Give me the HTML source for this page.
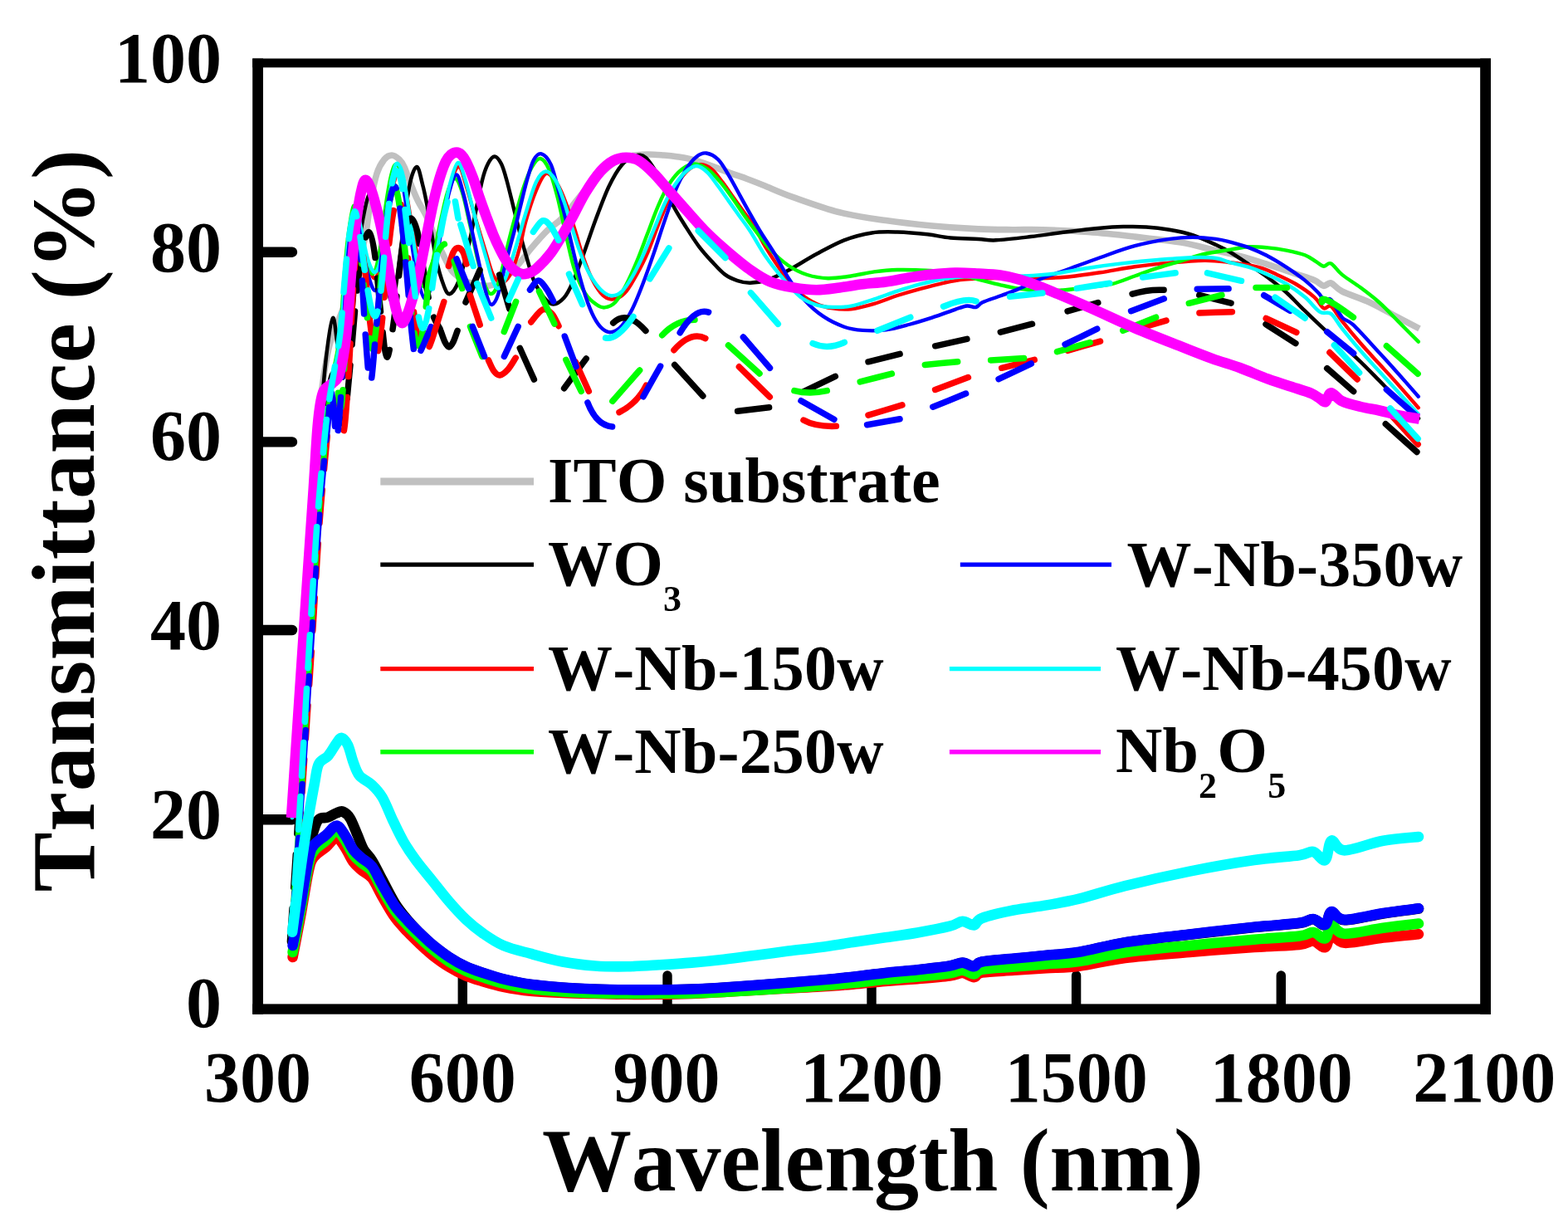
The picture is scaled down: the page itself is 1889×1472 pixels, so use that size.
<!DOCTYPE html>
<html lang="en"><head><meta charset="utf-8"><title>Transmittance spectra</title>
<style>
html,body{margin:0;padding:0;background:#fff;}
body{width:1889px;height:1472px;overflow:hidden;}
svg{display:block;}
text{font-family:"Liberation Serif",serif;font-weight:bold;fill:#000;font-kerning:none;}
.tk{font-size:86px;}
.lg{font-size:78px;letter-spacing:0.2px;}
.sb{font-size:44px;}
.ax{font-size:108px;}
path{fill:none;stroke-linejoin:round;}
</style></head><body>
<svg width="1889" height="1472" viewBox="0 0 1889 1472">
<rect x="0" y="0" width="1889" height="1472" fill="#fff"/>
<g id="frame" fill="#000">
<rect x="304.2" y="70.5" width="12.8" height="1151.2"/>
<rect x="1783.2" y="70.5" width="12.8" height="1151.2"/>
<rect x="304.2" y="70.5" width="1491.8" height="10.8"/>
<rect x="304.2" y="1209.4" width="1491.8" height="12.3"/>
<g stroke="#000" stroke-width="12.4" stroke-linecap="round" fill="none">
<path d="M316 303.7H352M316 532.4H352M316 759H352M316 987.3H352"/>
</g>
<g stroke="#000" stroke-width="11.4" stroke-linecap="round" fill="none">
<path d="M557.3 1210V1175M804 1210V1175M1050 1210V1175M1296.6 1210V1175M1543.3 1210V1175"/>
</g>
</g>
<g id="curves">
<path d="M350.5 985.0C352.8 950.8 359.8 844.2 364.0 780.0C368.2 715.8 372.7 646.7 376.0 600.0C379.3 553.3 380.7 530.0 384.0 500.0C387.3 470.0 391.3 440.8 396.0 420.0C400.7 399.2 406.7 390.0 412.0 375.0C417.3 360.0 423.3 345.0 428.0 330.0C432.7 315.0 437.0 299.2 440.0 285.0C443.0 270.8 443.7 257.7 446.0 245.0C448.3 232.3 451.2 217.8 454.0 209.0C456.8 200.2 460.0 195.7 463.0 192.0C466.0 188.3 469.0 187.0 472.0 187.0C475.0 187.0 478.5 189.7 481.0 192.0C483.5 194.3 484.7 196.0 487.0 201.0C489.3 206.0 492.3 215.3 495.0 222.0C497.7 228.7 499.8 234.5 503.0 241.0C506.2 247.5 510.5 253.7 514.0 261.0C517.5 268.3 520.7 277.3 524.0 285.0C527.3 292.7 530.5 300.0 534.0 307.0C537.5 314.0 540.7 321.8 545.0 327.0C549.3 332.2 555.0 335.3 560.0 338.0C565.0 340.7 570.0 342.0 575.0 343.0C580.0 344.0 585.0 344.8 590.0 344.0C595.0 343.2 599.2 342.3 605.0 338.0C610.8 333.7 619.2 324.5 625.0 318.0C630.8 311.5 634.2 305.8 640.0 299.0C645.8 292.2 653.8 283.0 660.0 277.0C666.2 271.0 670.3 270.0 677.0 263.0C683.7 256.0 692.8 243.3 700.0 235.0C707.2 226.7 713.3 219.5 720.0 213.0C726.7 206.5 733.3 200.2 740.0 196.0C746.7 191.8 753.3 189.7 760.0 188.0C766.7 186.3 773.3 186.2 780.0 186.0C786.7 185.8 794.4 186.6 800.0 187.0C805.6 187.4 807.0 187.3 813.6 188.4C820.2 189.5 828.7 190.4 839.5 193.6C850.3 196.8 868.1 204.2 878.2 207.8C888.3 211.5 893.0 212.9 900.0 215.5C907.0 218.1 910.7 219.6 920.0 223.3C929.3 227.0 940.5 232.3 955.7 237.7C970.9 243.1 992.8 251.2 1011.4 255.8C1030.0 260.5 1048.5 262.9 1067.1 265.6C1085.7 268.3 1104.2 270.3 1122.8 272.0C1141.4 273.7 1162.4 275.1 1178.6 275.9C1194.8 276.7 1207.2 276.6 1220.0 276.7C1232.8 276.8 1240.5 276.2 1255.7 276.7C1270.9 277.2 1292.8 278.1 1311.4 279.5C1330.0 280.9 1348.5 283.0 1367.1 285.1C1385.7 287.2 1406.5 289.3 1422.8 292.1C1439.0 294.9 1452.8 299.1 1464.6 301.8C1476.4 304.5 1483.1 305.7 1493.6 308.5C1504.0 311.3 1516.1 315.1 1527.3 318.6C1538.5 322.2 1551.6 326.6 1560.9 329.8C1570.2 333.0 1577.7 335.2 1583.3 337.6C1588.9 340.0 1591.1 343.7 1594.5 344.3C1597.9 344.9 1599.8 339.9 1603.5 341.0C1607.2 342.1 1609.1 347.1 1616.9 351.0C1624.8 354.9 1639.4 359.3 1650.6 364.5C1661.8 369.7 1674.3 377.2 1684.2 382.4C1694.1 387.6 1705.7 393.6 1710.0 395.9" stroke="#c0c0c0" stroke-width="7.6" stroke-linecap="butt"/>
<path d="M351.0 985.0C354.5 937.5 366.3 777.5 372.0 700.0C377.7 622.5 381.5 565.0 385.0 520.0C388.5 475.0 390.3 452.8 393.0 430.0C395.7 407.2 398.7 384.7 401.0 383.0C403.3 381.3 405.2 408.0 407.0 420.0C408.8 432.0 410.2 451.7 412.0 455.0C413.8 458.3 416.0 450.8 418.0 440.0C420.0 429.2 421.7 413.3 424.0 390.0C426.3 366.7 429.3 323.3 432.0 300.0C434.7 276.7 437.5 261.3 440.0 250.0C442.5 238.7 444.7 232.0 447.0 232.0C449.3 232.0 451.5 237.0 454.0 250.0C456.5 263.0 459.3 291.7 462.0 310.0C464.7 328.3 467.7 353.3 470.0 360.0C472.3 366.7 473.7 361.7 476.0 350.0C478.3 338.3 481.2 310.8 484.0 290.0C486.8 269.2 490.0 239.8 493.0 225.0C496.0 210.2 499.3 201.5 502.0 201.0C504.7 200.5 506.8 213.8 509.0 222.0C511.2 230.2 512.3 235.3 515.0 250.0C517.7 264.7 521.7 294.2 525.0 310.0C528.3 325.8 532.2 337.7 535.0 345.0C537.8 352.3 539.2 354.8 542.0 354.0C544.8 353.2 548.7 347.8 552.0 340.0C555.3 332.2 559.0 318.7 562.0 307.0C565.0 295.3 566.8 285.0 570.0 270.0C573.2 255.0 578.0 229.2 581.0 217.0C584.0 204.8 585.5 201.8 588.0 197.0C590.5 192.2 593.3 188.4 596.0 188.5C598.7 188.6 601.6 192.8 604.0 197.5C606.4 202.2 608.0 208.3 610.4 217.0C612.8 225.7 615.9 238.8 618.6 249.7C621.3 260.6 624.0 271.9 626.7 282.3C629.4 292.7 632.2 302.7 635.0 312.0C637.8 321.3 639.9 330.3 643.2 338.0C646.5 345.7 651.1 353.2 655.0 358.0C658.9 362.8 662.4 366.4 666.5 366.5C670.6 366.6 675.5 363.1 679.4 358.8C683.3 354.5 685.8 349.3 689.7 340.7C693.6 332.1 697.9 320.1 702.6 307.2C707.3 294.3 712.9 277.1 718.1 263.3C723.3 249.5 728.4 235.3 733.6 224.5C738.8 213.7 743.9 204.8 749.1 198.7C754.3 192.6 759.8 189.3 764.6 187.9C769.4 186.5 772.9 185.5 778.0 190.0C783.1 194.5 789.5 205.4 795.0 215.0C800.5 224.6 805.8 238.0 811.0 247.8C816.2 257.6 821.3 265.4 826.5 273.6C831.7 281.8 836.8 289.9 842.0 296.8C847.2 303.7 852.3 309.3 857.5 314.9C862.7 320.5 867.8 326.5 873.0 330.4C878.2 334.3 883.3 336.4 888.5 338.1C893.7 339.8 897.9 340.9 904.0 340.7C910.1 340.5 917.3 339.5 925.0 337.0C932.7 334.5 940.2 330.7 950.0 325.5C959.8 320.3 972.4 312.0 983.6 306.0C994.8 300.0 1005.9 293.6 1017.0 289.3C1028.1 285.0 1039.7 282.0 1050.4 280.4C1061.1 278.8 1069.8 279.2 1081.0 279.5C1092.2 279.8 1106.6 281.1 1117.3 282.3C1128.0 283.5 1134.8 285.6 1145.0 286.5C1155.2 287.4 1169.4 287.4 1178.6 287.9C1187.8 288.4 1189.5 289.8 1200.0 289.3C1210.5 288.8 1227.9 286.7 1241.8 285.1C1255.7 283.5 1269.7 281.2 1283.6 279.5C1297.5 277.8 1313.7 275.9 1325.3 274.8C1336.9 273.7 1343.9 273.3 1353.2 273.1C1362.5 272.9 1371.7 272.8 1381.0 273.4C1390.3 274.0 1399.6 275.1 1408.9 276.7C1418.2 278.3 1427.5 280.1 1436.8 283.1C1446.1 286.1 1457.0 291.3 1464.6 294.8C1472.2 298.3 1475.7 300.0 1482.4 304.0C1489.1 308.0 1497.3 313.6 1504.8 318.6C1512.3 323.6 1519.8 328.6 1527.3 334.2C1534.8 339.8 1543.0 346.2 1549.7 352.2C1556.4 358.2 1560.1 362.8 1567.6 370.1C1575.1 377.4 1583.3 385.6 1594.5 395.9C1605.7 406.2 1623.7 421.3 1634.9 431.8C1646.1 442.3 1653.5 450.3 1661.8 458.7C1670.1 467.1 1677.1 474.4 1685.0 482.0C1692.9 489.6 1705.0 500.3 1709.0 504.0" stroke="#000" stroke-width="4.5" stroke-linecap="round"/>
<path d="M352.3 985.0C354.9 950.8 363.1 840.8 367.8 780.0C372.4 719.2 377.2 659.5 380.5 620.0C383.8 580.5 385.0 566.3 387.5 543.0C390.0 519.7 392.5 497.2 395.5 480.0C398.5 462.8 402.7 453.3 405.5 440.0C408.3 426.7 410.7 416.7 412.5 400.0C414.3 383.3 415.0 358.8 416.5 340.0C418.0 321.2 419.4 300.0 421.5 287.0C423.6 274.0 426.6 262.3 429.0 262.0C431.4 261.7 433.5 275.3 436.0 285.0C438.5 294.7 441.3 311.7 444.0 320.0C446.7 328.3 449.3 336.7 452.0 335.0C454.7 333.3 457.3 324.2 460.0 310.0C462.7 295.8 465.3 265.8 468.0 250.0C470.7 234.2 473.8 222.2 476.0 215.0C478.2 207.8 479.0 205.3 481.0 207.0C483.0 208.7 485.5 214.5 488.0 225.0C490.5 235.5 493.2 254.2 496.0 270.0C498.8 285.8 502.2 308.0 505.0 320.0C507.8 332.0 510.2 341.2 513.0 342.0C515.8 342.8 518.8 336.2 522.0 325.0C525.2 313.8 528.7 291.7 532.0 275.0C535.3 258.3 538.6 237.3 542.0 225.0C545.4 212.7 549.3 201.0 552.6 201.0C555.9 201.0 558.9 215.5 562.0 225.0C565.1 234.5 567.3 244.2 571.3 257.8C575.3 271.4 582.2 294.5 586.0 306.7C589.8 318.9 591.2 325.4 594.0 331.0C596.8 336.6 600.0 339.3 603.0 340.0C606.0 340.7 609.2 338.7 612.0 335.0C614.8 331.3 617.5 324.7 620.0 318.0C622.5 311.3 624.9 303.3 627.0 295.0C629.1 286.7 629.8 279.3 632.9 268.4C636.0 257.5 641.6 239.6 645.8 229.7C650.0 219.8 653.9 210.3 658.2 209.0C662.5 207.7 667.6 216.0 671.6 222.0C675.6 228.0 678.6 236.4 682.0 245.2C685.4 254.0 688.6 264.2 692.0 275.0C695.4 285.8 699.1 299.6 702.6 309.7C706.1 319.8 709.5 328.5 713.0 335.6C716.5 342.7 719.9 348.2 723.3 352.3C726.7 356.4 730.1 358.9 733.6 360.0C737.1 361.1 740.5 360.5 744.0 359.0C747.5 357.5 750.4 355.9 754.3 351.1C758.2 346.3 762.9 338.1 767.2 330.4C771.5 322.6 775.8 314.5 780.1 304.6C784.4 294.7 788.7 281.8 793.0 271.0C797.3 260.2 801.6 249.0 805.9 240.0C810.2 231.0 814.5 223.0 818.8 216.8C823.1 210.6 827.4 205.7 831.7 202.6C836.0 199.5 840.3 198.0 844.6 198.2C848.9 198.4 853.2 200.4 857.5 203.9C861.8 207.4 866.1 213.8 870.4 219.4C874.7 225.0 879.0 231.5 883.3 237.5C887.6 243.5 891.9 249.5 896.2 255.5C900.5 261.5 904.9 266.6 909.2 273.6C913.6 280.6 916.4 288.0 922.3 297.6C928.2 307.2 937.6 321.7 944.6 331.0C951.6 340.3 957.5 347.5 964.0 353.3C970.5 359.1 977.1 362.9 983.6 365.9C990.1 368.9 996.0 370.3 1003.0 371.4C1010.0 372.5 1016.9 373.2 1025.3 372.3C1033.7 371.4 1043.9 368.6 1053.2 365.9C1062.5 363.2 1071.7 359.0 1081.0 356.0C1090.3 353.0 1099.7 350.3 1109.0 347.8C1118.3 345.3 1128.0 342.7 1136.8 340.8C1145.6 338.9 1151.3 337.6 1161.8 336.6C1172.3 335.6 1185.3 335.2 1200.0 335.0C1214.7 334.8 1236.1 335.4 1250.0 335.2C1263.9 335.0 1271.0 334.9 1283.6 333.8C1296.1 332.7 1311.4 330.4 1325.3 328.3C1339.2 326.2 1353.2 323.2 1367.1 321.3C1381.0 319.4 1395.0 317.9 1408.9 316.6C1422.8 315.4 1439.1 314.0 1450.7 313.8C1462.3 313.6 1467.7 314.4 1478.6 315.7C1489.5 317.0 1506.0 319.4 1516.0 321.9C1526.0 324.4 1531.0 327.5 1538.5 330.9C1546.0 334.2 1553.4 337.5 1560.9 342.0C1568.4 346.5 1577.7 352.9 1583.3 357.8C1588.9 362.7 1591.1 369.3 1594.5 371.2C1597.9 373.1 1599.8 366.4 1603.5 369.0C1607.2 371.6 1610.9 379.4 1616.9 386.9C1622.9 394.4 1631.8 405.2 1639.3 413.8C1646.8 422.4 1654.3 430.3 1661.8 438.5C1669.3 446.7 1676.4 454.3 1684.2 463.1C1692.0 471.9 1704.7 486.5 1708.8 491.2" stroke="#f00" stroke-width="4.4" stroke-linecap="round"/>
<path d="M351.8 985.0C354.2 950.8 362.1 840.8 366.5 780.0C370.9 719.2 374.9 659.5 378.0 620.0C381.1 580.5 382.5 566.3 385.0 543.0C387.5 519.7 390.0 497.2 393.0 480.0C396.0 462.8 400.2 453.3 403.0 440.0C405.8 426.7 408.2 416.7 410.0 400.0C411.8 383.3 412.5 358.8 414.0 340.0C415.5 321.2 417.0 302.3 419.0 287.0C421.0 271.7 423.7 250.8 426.0 248.0C428.3 245.2 430.5 259.7 433.0 270.0C435.5 280.3 438.3 300.0 441.0 310.0C443.7 320.0 446.3 330.8 449.0 330.0C451.7 329.2 454.3 319.2 457.0 305.0C459.7 290.8 462.5 261.2 465.0 245.0C467.5 228.8 469.8 215.8 472.0 208.0C474.2 200.2 475.8 196.8 478.0 198.0C480.2 199.2 482.5 204.3 485.0 215.0C487.5 225.7 490.2 244.8 493.0 262.0C495.8 279.2 499.2 304.2 502.0 318.0C504.8 331.8 507.2 343.8 510.0 345.0C512.8 346.2 515.8 336.7 519.0 325.0C522.2 313.3 525.7 290.5 529.0 275.0C532.3 259.5 535.8 242.0 539.0 232.0C542.2 222.0 545.0 215.0 548.0 215.0C551.0 215.0 554.0 222.8 557.0 232.0C560.0 241.2 562.8 256.2 566.0 270.0C569.2 283.8 573.0 302.8 576.0 315.0C579.0 327.2 581.5 336.5 584.0 343.0C586.5 349.5 588.5 353.7 591.0 354.0C593.5 354.3 596.5 350.7 599.0 345.0C601.5 339.3 603.7 329.2 606.0 320.0C608.3 310.8 610.7 299.4 613.0 290.0C615.3 280.6 617.1 273.8 620.0 263.3C622.9 252.8 626.8 237.4 630.3 227.1C633.8 216.8 637.2 207.3 640.7 201.3C644.2 195.3 647.6 190.6 651.0 191.0C654.4 191.4 657.9 196.2 661.3 203.9C664.7 211.7 668.1 224.2 671.6 237.5C675.1 250.8 678.5 269.3 682.0 283.9C685.5 298.5 688.4 313.6 692.3 325.2C696.2 336.8 700.9 346.7 705.2 353.6C709.5 360.5 714.2 363.7 718.1 366.5C722.0 369.3 724.5 370.8 728.4 370.4C732.3 370.0 737.0 368.5 741.3 364.0C745.6 359.5 750.0 351.5 754.3 343.3C758.6 335.1 762.9 325.2 767.2 314.9C771.5 304.6 775.8 292.5 780.1 281.3C784.4 270.1 788.7 257.7 793.0 247.8C797.3 237.9 801.2 229.3 805.9 222.0C810.6 214.7 816.2 208.0 821.4 203.9C826.6 199.8 831.7 197.4 836.9 197.4C842.1 197.4 847.2 200.2 852.4 203.9C857.6 207.6 862.8 213.4 867.9 219.4C873.0 225.4 877.9 232.5 883.3 240.0C888.6 247.5 892.6 254.1 900.0 264.2C907.4 274.3 919.6 291.1 927.9 300.4C936.2 309.7 942.6 314.9 950.0 320.0C957.4 325.1 964.5 328.5 972.4 331.0C980.3 333.5 988.7 334.9 997.5 335.2C1006.3 335.4 1016.0 333.8 1025.3 332.5C1034.6 331.2 1043.9 328.6 1053.2 327.4C1062.5 326.1 1069.9 325.2 1081.0 325.0C1092.1 324.8 1108.5 325.3 1120.0 326.0C1131.5 326.7 1140.2 327.2 1150.0 329.0C1159.8 330.8 1169.2 334.2 1178.6 336.6C1188.0 339.0 1198.2 341.7 1206.4 343.6C1214.6 345.5 1219.7 346.7 1227.9 347.8C1236.1 348.9 1246.4 349.8 1255.7 350.0C1265.0 350.2 1274.4 349.9 1283.6 349.2C1292.8 348.5 1301.7 347.2 1311.0 346.0C1320.3 344.8 1330.0 344.4 1339.3 342.2C1348.6 339.9 1357.8 335.8 1367.1 332.5C1376.4 329.2 1385.7 325.7 1395.0 322.7C1404.3 319.7 1413.5 317.1 1422.8 314.3C1432.1 311.5 1440.8 308.3 1450.7 306.0C1460.6 303.7 1473.4 302.1 1482.4 300.6C1491.4 299.2 1497.3 297.7 1504.8 297.3C1512.3 296.9 1519.8 297.7 1527.3 298.4C1534.8 299.1 1542.2 300.2 1549.7 301.7C1557.2 303.2 1566.0 305.1 1572.0 307.3C1578.0 309.6 1581.8 312.9 1585.5 315.2C1589.2 317.4 1591.5 320.4 1594.5 320.8C1597.5 321.2 1599.8 315.7 1603.5 317.4C1607.2 319.1 1610.9 326.0 1616.9 330.9C1622.9 335.8 1631.8 341.0 1639.3 346.6C1646.8 352.2 1654.3 357.8 1661.8 364.5C1669.3 371.2 1676.4 379.0 1684.2 386.9C1692.0 394.8 1704.7 407.5 1708.8 411.6" stroke="#0f0" stroke-width="4.4" stroke-linecap="round"/>
<path d="M352.1 985.0C354.6 950.8 362.7 840.8 367.2 780.0C371.8 719.2 376.3 659.5 379.5 620.0C382.7 580.5 384.0 566.3 386.5 543.0C389.0 519.7 391.5 497.2 394.5 480.0C397.5 462.8 401.7 453.3 404.5 440.0C407.3 426.7 409.7 416.7 411.5 400.0C413.3 383.3 414.0 358.8 415.5 340.0C417.0 321.2 418.6 301.2 420.5 287.0C422.4 272.8 424.8 256.2 427.0 255.0C429.2 253.8 431.5 268.3 434.0 280.0C436.5 291.7 439.0 313.3 442.0 325.0C445.0 336.7 449.0 350.8 452.0 350.0C455.0 349.2 457.5 335.8 460.0 320.0C462.5 304.2 464.8 272.5 467.0 255.0C469.2 237.5 471.2 223.3 473.0 215.0C474.8 206.7 476.0 203.8 478.0 205.0C480.0 206.2 482.5 210.8 485.0 222.0C487.5 233.2 490.2 254.0 493.0 272.0C495.8 290.0 498.8 315.3 502.0 330.0C505.2 344.7 508.8 358.7 512.0 360.0C515.2 361.3 517.8 351.0 521.0 338.0C524.2 325.0 527.7 299.7 531.0 282.0C534.3 264.3 537.8 243.9 541.0 232.0C544.2 220.1 547.1 210.3 550.0 210.5C552.9 210.7 555.8 224.8 558.3 233.4C560.8 242.0 562.8 252.5 565.0 262.0C567.2 271.5 568.8 279.1 571.3 290.4C573.8 301.7 577.4 318.7 580.0 330.0C582.6 341.3 584.9 351.8 587.0 358.0C589.1 364.2 590.3 367.5 592.5 367.0C594.7 366.5 597.2 363.2 600.0 355.0C602.8 346.8 605.9 330.1 609.0 318.0C612.1 305.9 615.6 293.7 618.6 282.3C621.6 270.9 624.0 260.6 626.7 249.7C629.4 238.8 632.2 226.5 634.9 217.0C637.6 207.5 640.1 197.9 643.0 192.6C645.9 187.3 648.8 184.3 652.3 185.3C655.8 186.3 660.2 190.4 663.9 198.7C667.5 207.0 670.8 222.0 674.2 234.9C677.6 247.8 681.0 262.0 684.5 276.2C688.0 290.4 691.4 306.7 694.9 320.0C698.4 333.3 701.8 345.9 705.2 356.2C708.6 366.5 712.0 375.3 715.5 382.0C719.0 388.7 722.4 393.2 725.9 396.2C729.4 399.2 732.3 400.7 736.2 400.1C740.1 399.5 744.8 397.1 749.1 392.4C753.4 387.7 757.7 380.3 762.0 371.7C766.3 363.1 770.6 351.9 774.9 340.7C779.2 329.5 783.5 317.1 787.8 304.6C792.1 292.1 796.4 278.4 800.7 265.9C805.0 253.4 809.3 240.0 813.6 229.7C817.9 219.4 822.2 210.8 826.5 203.9C830.8 197.0 835.4 191.6 839.5 188.4C843.6 185.2 846.7 183.8 851.0 184.5C855.3 185.2 860.8 187.8 865.3 192.3C869.8 196.8 873.9 204.5 878.2 211.6C882.5 218.7 886.8 227.2 891.1 234.9C895.4 242.7 899.7 250.6 904.0 258.1C908.3 265.6 911.8 272.0 916.7 280.0C921.6 288.0 927.9 296.8 933.4 306.0C938.9 315.2 944.0 325.9 950.0 335.2C956.0 344.5 962.6 354.0 969.6 361.7C976.6 369.4 984.0 375.9 991.9 381.2C999.8 386.5 1009.1 390.9 1017.0 393.7C1024.9 396.5 1031.0 397.3 1039.3 397.9C1047.6 398.5 1057.8 398.5 1067.1 397.4C1076.4 396.2 1085.7 393.5 1095.0 391.0C1104.3 388.5 1113.5 385.6 1122.8 382.6C1132.1 379.6 1143.7 375.2 1150.7 372.8C1157.7 370.4 1160.8 369.0 1165.0 368.5C1169.2 368.0 1172.6 370.8 1175.8 370.0C1179.0 369.2 1178.9 366.3 1184.0 364.0C1189.1 361.7 1199.1 358.7 1206.4 356.0C1213.7 353.3 1219.7 351.3 1227.9 347.8C1236.1 344.3 1246.4 338.9 1255.7 335.2C1265.0 331.5 1272.0 329.7 1283.6 325.5C1295.2 321.3 1311.4 315.1 1325.3 310.2C1339.2 305.3 1353.2 299.9 1367.1 296.2C1381.0 292.5 1397.3 289.6 1408.9 287.9C1420.5 286.2 1427.5 285.9 1436.8 285.9C1446.1 285.9 1457.0 286.9 1464.6 287.9C1472.2 288.8 1475.7 289.9 1482.4 291.6C1489.1 293.4 1497.3 295.6 1504.8 298.4C1512.3 301.2 1519.8 304.6 1527.3 308.5C1534.8 312.4 1542.2 317.0 1549.7 321.9C1557.2 326.8 1565.7 332.6 1572.0 337.6C1578.3 342.7 1583.8 348.1 1587.8 352.2C1591.8 356.3 1593.4 360.5 1596.0 362.0C1598.6 363.5 1600.0 357.6 1603.5 361.0C1607.0 364.4 1612.4 377.3 1616.9 382.4C1621.4 387.5 1622.9 384.3 1630.4 391.4C1637.9 398.5 1652.8 415.3 1661.8 425.0C1670.8 434.7 1676.4 440.9 1684.2 449.7C1692.0 458.5 1704.7 473.0 1708.8 477.7" stroke="#00f" stroke-width="4.4" stroke-linecap="round"/>
<path d="M352.0 985.0C354.5 950.8 362.5 840.8 367.0 780.0C371.5 719.2 375.8 659.5 379.0 620.0C382.2 580.5 383.5 566.3 386.0 543.0C388.5 519.7 391.0 497.2 394.0 480.0C397.0 462.8 401.2 453.3 404.0 440.0C406.8 426.7 409.2 416.7 411.0 400.0C412.8 383.3 413.5 358.8 415.0 340.0C416.5 321.2 417.8 302.0 420.0 287.0C422.2 272.0 425.5 252.0 428.0 250.0C430.5 248.0 432.5 264.7 435.0 275.0C437.5 285.3 440.2 303.2 443.0 312.0C445.8 320.8 449.2 329.2 452.0 328.0C454.8 326.8 457.3 318.8 460.0 305.0C462.7 291.2 465.7 261.3 468.0 245.0C470.3 228.7 472.2 215.0 474.0 207.0C475.8 199.0 477.0 196.0 479.0 197.0C481.0 198.0 483.5 202.2 486.0 213.0C488.5 223.8 491.2 244.5 494.0 262.0C496.8 279.5 499.8 305.0 503.0 318.0C506.2 331.0 509.8 339.3 513.0 340.0C516.2 340.7 518.8 333.3 522.0 322.0C525.2 310.7 528.7 288.7 532.0 272.0C535.3 255.3 538.7 234.7 542.0 222.0C545.3 209.3 548.7 197.2 551.7 196.0C554.7 194.8 557.3 206.8 560.0 215.0C562.7 223.2 565.2 234.2 568.0 245.0C570.8 255.8 574.0 268.8 577.0 280.0C580.0 291.2 583.2 302.2 586.0 312.0C588.8 321.8 591.5 333.1 594.0 339.0C596.5 344.9 598.2 348.2 600.7 347.5C603.2 346.8 606.0 341.8 609.0 335.0C612.0 328.2 615.8 315.5 618.6 306.7C621.4 297.9 623.6 290.1 626.0 282.0C628.4 273.9 629.6 268.5 632.9 258.1C636.2 247.7 641.7 228.0 645.8 219.4C649.9 210.8 653.5 206.9 657.4 206.5C661.3 206.1 665.3 210.8 669.0 216.8C672.7 222.8 675.9 232.7 679.4 242.6C682.9 252.5 686.3 265.4 689.7 276.2C693.1 287.0 696.5 298.2 700.0 307.2C703.5 316.2 706.5 323.5 710.4 330.4C714.3 337.3 719.0 344.2 723.3 348.5C727.6 352.8 731.9 355.8 736.2 356.2C740.5 356.6 744.8 355.0 749.1 351.1C753.4 347.2 757.7 340.3 762.0 333.0C766.3 325.7 770.6 316.7 774.9 307.2C779.2 297.7 783.5 286.5 787.8 276.2C792.1 265.9 796.4 254.2 800.7 245.2C805.0 236.2 809.3 228.4 813.6 222.0C817.9 215.6 822.2 210.2 826.5 206.5C830.8 202.8 835.2 199.8 839.5 200.0C843.8 200.2 848.1 203.7 852.4 207.8C856.7 211.9 861.0 218.7 865.3 224.5C869.6 230.3 873.9 236.6 878.2 242.6C882.5 248.6 886.8 254.7 891.1 260.7C895.4 266.7 898.8 270.8 904.0 278.8C909.2 286.8 916.0 299.6 922.3 308.8C928.6 318.0 934.8 325.7 941.8 333.8C948.8 341.9 957.0 351.9 964.0 357.5C971.0 363.1 977.1 365.2 983.6 367.3C990.1 369.4 996.0 369.8 1003.0 370.0C1010.0 370.2 1016.9 370.3 1025.3 368.7C1033.7 367.1 1043.9 363.3 1053.2 360.3C1062.5 357.3 1071.7 353.6 1081.0 350.6C1090.3 347.6 1099.7 344.6 1109.0 342.2C1118.3 339.8 1128.0 337.5 1136.8 336.0C1145.6 334.5 1151.3 333.8 1161.8 333.3C1172.3 332.8 1188.1 333.1 1200.0 333.0C1211.9 332.9 1221.8 333.1 1233.4 332.5C1245.0 331.9 1256.6 331.3 1269.6 329.7C1282.6 328.1 1297.5 324.8 1311.4 322.7C1325.3 320.6 1339.3 318.7 1353.2 317.1C1367.1 315.5 1381.1 314.1 1395.0 313.0C1408.9 311.9 1425.2 310.5 1436.8 310.2C1448.4 309.9 1457.0 310.0 1464.6 311.0C1472.2 312.0 1475.7 314.5 1482.4 316.3C1489.1 318.1 1497.3 319.5 1504.8 321.9C1512.3 324.3 1519.8 327.5 1527.3 330.9C1534.8 334.2 1542.2 337.5 1549.7 342.0C1557.2 346.5 1565.3 352.2 1572.0 357.8C1578.7 363.4 1584.8 372.3 1590.0 375.7C1595.2 379.1 1599.0 374.6 1603.5 378.0C1608.0 381.4 1610.9 388.4 1616.9 395.9C1622.9 403.4 1631.8 414.2 1639.3 422.8C1646.8 431.4 1654.3 439.3 1661.8 447.5C1669.3 455.7 1676.4 463.5 1684.2 472.1C1692.0 480.7 1704.7 494.5 1708.8 499.0" stroke="#0ff" stroke-width="4.4" stroke-linecap="round"/>
<path d="M349.4 1134.0C351.0 1109.0 355.9 1039.0 359.0 984.0C362.1 929.0 364.8 860.7 368.0 804.0C371.2 747.3 375.2 684.7 378.0 644.0C380.8 603.3 382.8 584.0 385.0 560.0C387.2 536.0 389.2 515.0 391.0 500.0C392.8 485.0 394.2 478.3 396.0 470.0C397.8 461.7 400.0 449.2 402.0 450.0C404.0 450.8 406.0 465.0 408.0 475.0C410.0 485.0 411.8 514.2 414.0 510.0C416.2 505.8 418.5 475.0 421.0 450.0C423.5 425.0 426.3 385.0 429.0 360.0C431.7 335.0 434.3 313.3 437.0 300.0C439.7 286.7 442.5 278.3 445.0 280.0C447.5 281.7 449.7 293.3 452.0 310.0C454.3 326.7 456.7 360.0 459.0 380.0C461.3 400.0 463.5 428.3 466.0 430.0C468.5 431.7 471.3 408.3 474.0 390.0C476.7 371.7 479.7 338.3 482.0 320.0C484.3 301.7 485.8 289.5 488.0 280.0C490.2 270.5 492.5 263.0 495.0 263.0C497.5 263.0 500.3 268.8 503.0 280.0C505.7 291.2 508.2 314.2 511.0 330.0C513.8 345.8 516.8 364.0 520.0 375.0C523.2 386.0 528.3 392.5 530.0 396.0" stroke="#000" stroke-width="7.5" stroke-dasharray="40 25" stroke-dashoffset="0" stroke-linecap="round"/>
<path d="M351.2 1134.0C353.0 1109.0 358.2 1039.0 362.0 984.0C365.8 929.0 370.3 860.7 374.0 804.0C377.7 747.3 381.2 684.7 384.0 644.0C386.8 603.3 388.8 584.0 391.0 560.0C393.2 536.0 395.3 512.5 397.0 500.0C398.7 487.5 399.2 487.5 401.0 485.0C402.8 482.5 405.8 479.2 408.0 485.0C410.2 490.8 412.0 525.8 414.0 520.0C416.0 514.2 418.0 480.0 420.0 450.0C422.0 420.0 424.0 367.5 426.0 340.0C428.0 312.5 429.8 288.3 432.0 285.0C434.2 281.7 436.7 302.5 439.0 320.0C441.3 337.5 443.7 371.7 446.0 390.0C448.3 408.3 450.7 430.0 453.0 430.0C455.3 430.0 457.7 410.0 460.0 390.0C462.3 370.0 464.7 332.5 467.0 310.0C469.3 287.5 471.7 266.7 474.0 255.0C476.3 243.3 478.7 235.8 481.0 240.0C483.3 244.2 485.7 262.5 488.0 280.0C490.3 297.5 492.7 325.0 495.0 345.0C497.3 365.0 499.5 386.5 502.0 400.0C504.5 413.5 507.7 422.7 510.0 426.0C512.3 429.3 514.0 423.6 516.0 420.0C518.0 416.4 521.0 407.1 522.0 404.5" stroke="#f00" stroke-width="7.5" stroke-dasharray="40 25" stroke-dashoffset="15" stroke-linecap="round"/>
<path d="M350.6 1134.0C352.3 1109.0 357.4 1039.0 361.0 984.0C364.6 929.0 368.5 860.7 372.0 804.0C375.5 747.3 379.2 684.7 382.0 644.0C384.8 603.3 386.8 584.0 389.0 560.0C391.2 536.0 393.2 515.0 395.0 500.0C396.8 485.0 398.2 475.8 400.0 470.0C401.8 464.2 404.2 461.7 406.0 465.0C407.8 468.3 409.3 497.5 411.0 490.0C412.7 482.5 414.3 448.3 416.0 420.0C417.7 391.7 419.2 345.8 421.0 320.0C422.8 294.2 424.8 268.3 427.0 265.0C429.2 261.7 431.7 282.5 434.0 300.0C436.3 317.5 438.7 350.0 441.0 370.0C443.3 390.0 445.7 418.3 448.0 420.0C450.3 421.7 452.7 400.0 455.0 380.0C457.3 360.0 459.7 322.5 462.0 300.0C464.3 277.5 466.7 257.5 469.0 245.0C471.3 232.5 473.7 222.5 476.0 225.0C478.3 227.5 480.5 242.5 483.0 260.0C485.5 277.5 488.5 307.5 491.0 330.0C493.5 352.5 495.7 380.7 498.0 395.0C500.3 409.3 502.7 418.5 505.0 416.0C507.3 413.5 510.1 393.7 512.0 380.0C513.9 366.3 515.8 341.7 516.6 334.0" stroke="#0f0" stroke-width="7.5" stroke-dasharray="40 25" stroke-dashoffset="30" stroke-linecap="round"/>
<path d="M350.9 1134.0C352.7 1109.0 357.8 1039.0 361.5 984.0C365.2 929.0 369.4 860.7 373.0 804.0C376.6 747.3 380.2 684.7 383.0 644.0C385.8 603.3 387.8 584.0 390.0 560.0C392.2 536.0 394.7 515.0 396.0 500.0C397.3 485.0 397.0 471.7 398.0 470.0C399.0 468.3 400.8 480.3 402.0 490.0C403.2 499.7 403.8 526.3 405.0 528.0C406.2 529.7 407.5 518.0 409.0 500.0C410.5 482.0 412.3 448.3 414.0 420.0C415.7 391.7 417.3 353.3 419.0 330.0C420.7 306.7 422.3 290.3 424.0 280.0C425.7 269.7 427.3 264.7 429.0 268.0C430.7 271.3 432.2 278.0 434.0 300.0C435.8 322.0 438.0 373.2 440.0 400.0C442.0 426.8 444.0 459.3 446.0 461.0C448.0 462.7 449.7 433.5 452.0 410.0C454.3 386.5 457.3 346.7 460.0 320.0C462.7 293.3 465.3 265.8 468.0 250.0C470.7 234.2 473.5 223.3 476.0 225.0C478.5 226.7 480.7 242.5 483.0 260.0C485.3 277.5 487.8 306.7 490.0 330.0C492.2 353.3 494.2 383.0 496.0 400.0C497.8 417.0 499.0 428.7 501.0 432.0C503.0 435.3 504.9 426.4 508.0 420.0C511.1 413.6 517.4 398.1 519.3 393.7" stroke="#00f" stroke-width="7.5" stroke-dasharray="40 25" stroke-dashoffset="45" stroke-linecap="round"/>
<path d="M530.9 398.4C531.8 400.7 534.3 408.7 536.0 412.0C537.7 415.3 539.3 418.0 541.0 418.0C542.7 418.0 544.3 415.3 546.0 412.0C547.7 408.7 550.2 400.7 551.1 398.4" stroke="#000" stroke-width="7.5" stroke-linecap="round"/>
<path d="M561.0 364.1C563.9 357.7 575.1 331.8 578.0 325.4" stroke="#000" stroke-width="7.5" stroke-linecap="round"/>
<path d="M601.7 331.0C603.7 337.9 611.8 365.3 613.8 372.2" stroke="#000" stroke-width="7.5" stroke-linecap="round"/>
<path d="M626.3 419.3C629.1 425.6 640.6 450.8 643.4 457.1" stroke="#000" stroke-width="7.5" stroke-linecap="round"/>
<path d="M679.6 467.7C684.0 461.7 701.8 437.9 706.2 431.9" stroke="#000" stroke-width="7.5" stroke-linecap="round"/>
<path d="M738.7 389.0Q755.3 372.9 777.9 398.5" stroke="#000" stroke-width="7.5" stroke-linecap="round"/>
<path d="M812.7 439.4C818.4 445.7 841.1 470.6 846.8 476.9" stroke="#000" stroke-width="7.5" stroke-linecap="round"/>
<path d="M888.6 495.3C894.9 494.5 920.3 491.5 926.6 490.7" stroke="#000" stroke-width="7.5" stroke-linecap="round"/>
<path d="M967.8 471.9C974.2 468.8 999.9 456.4 1006.3 453.3" stroke="#000" stroke-width="7.5" stroke-linecap="round"/>
<path d="M1046.0 435.8C1052.4 434.2 1077.7 428.0 1084.1 426.4" stroke="#000" stroke-width="7.5" stroke-linecap="round"/>
<path d="M1126.7 416.8C1133.1 415.4 1158.5 409.7 1164.9 408.3" stroke="#000" stroke-width="7.5" stroke-linecap="round"/>
<path d="M1205.3 400.1C1211.7 398.4 1237.1 391.9 1243.5 390.2" stroke="#000" stroke-width="7.5" stroke-linecap="round"/>
<path d="M1286.1 374.9C1292.2 373.2 1316.7 366.3 1322.8 364.6" stroke="#000" stroke-width="7.5" stroke-linecap="round"/>
<path d="M1364.1 354.1Q1382.9 348.3 1402.1 349.3" stroke="#000" stroke-width="7.5" stroke-linecap="round"/>
<path d="M1444.8 355.4C1451.2 357.0 1476.6 363.6 1483.0 365.2" stroke="#000" stroke-width="7.5" stroke-linecap="round"/>
<path d="M1525.0 390.6C1531.0 394.4 1554.9 409.8 1560.9 413.6" stroke="#000" stroke-width="7.5" stroke-linecap="round"/>
<path d="M1598.7 443.6C1604.0 448.3 1625.3 466.8 1630.6 471.5" stroke="#000" stroke-width="7.5" stroke-linecap="round"/>
<path d="M1669.3 510.8C1675.6 516.4 1700.6 538.8 1706.9 544.4" stroke="#000" stroke-width="7.5" stroke-linecap="round"/>
<path d="M522.8 402.0C524.8 395.6 532.8 369.9 534.8 363.5" stroke="#f00" stroke-width="7.5" stroke-linecap="round"/>
<path d="M540.5 320.5C541.4 317.8 544.1 307.7 546.0 304.0C547.9 300.3 550.0 298.6 552.0 298.6C554.0 298.6 556.3 300.8 558.0 304.0C559.7 307.2 561.4 315.5 562.1 317.8" stroke="#f00" stroke-width="7.5" stroke-linecap="round"/>
<path d="M566.3 355.5C568.3 361.4 576.2 385.3 578.2 391.2" stroke="#f00" stroke-width="7.5" stroke-linecap="round"/>
<path d="M588.5 434.0C589.6 436.2 592.7 444.0 595.0 447.0C597.3 450.0 599.4 452.3 602.2 452.0C605.0 451.7 608.8 448.5 612.0 445.0C615.2 441.5 619.6 433.5 621.2 431.2" stroke="#f00" stroke-width="7.5" stroke-linecap="round"/>
<path d="M639.8 387.9C642.1 385.4 649.4 374.6 653.6 373.0C657.8 371.4 661.8 374.7 665.0 378.0C668.2 381.3 671.6 390.3 673.0 392.7" stroke="#f00" stroke-width="7.5" stroke-linecap="round"/>
<path d="M693.4 436.1C696.0 441.9 706.7 465.5 709.3 471.3" stroke="#f00" stroke-width="7.5" stroke-linecap="round"/>
<path d="M746.0 496.7Q767.8 485.6 778.5 464.1" stroke="#f00" stroke-width="7.5" stroke-linecap="round"/>
<path d="M811.9 421.7Q832.6 398.5 849.8 407.6" stroke="#f00" stroke-width="7.5" stroke-linecap="round"/>
<path d="M890.4 441.8C896.5 447.9 921.2 472.1 927.3 478.2" stroke="#f00" stroke-width="7.5" stroke-linecap="round"/>
<path d="M968.0 506.1Q982.3 514.3 1007.4 513.3" stroke="#f00" stroke-width="7.5" stroke-linecap="round"/>
<path d="M1046.0 500.2C1052.8 498.2 1080.1 489.8 1086.9 487.8" stroke="#f00" stroke-width="7.5" stroke-linecap="round"/>
<path d="M1126.6 469.4C1133.3 466.9 1159.7 457.0 1166.4 454.5" stroke="#f00" stroke-width="7.5" stroke-linecap="round"/>
<path d="M1206.7 443.3C1213.3 441.6 1239.6 435.0 1246.2 433.3" stroke="#f00" stroke-width="7.5" stroke-linecap="round"/>
<path d="M1286.1 422.3C1292.7 420.4 1318.9 413.0 1325.5 411.1" stroke="#f00" stroke-width="7.5" stroke-linecap="round"/>
<path d="M1366.8 397.2C1373.2 395.3 1398.6 388.0 1405.0 386.1" stroke="#f00" stroke-width="7.5" stroke-linecap="round"/>
<path d="M1444.9 376.9C1451.5 376.7 1477.8 375.9 1484.4 375.7" stroke="#f00" stroke-width="7.5" stroke-linecap="round"/>
<path d="M1525.2 383.5C1531.3 386.3 1555.7 397.6 1561.8 400.4" stroke="#f00" stroke-width="7.5" stroke-linecap="round"/>
<path d="M1601.9 424.6C1607.4 430.0 1629.6 451.5 1635.1 456.9" stroke="#f00" stroke-width="7.5" stroke-linecap="round"/>
<path d="M1674.8 498.7C1680.3 504.8 1702.7 529.1 1708.2 535.2" stroke="#f00" stroke-width="7.5" stroke-linecap="round"/>
<path d="M517.5 331.6Q527.6 297.2 535.4 294.1" stroke="#0f0" stroke-width="7.5" stroke-linecap="round"/>
<path d="M547.2 314.5C548.8 320.0 555.1 342.0 556.7 347.5" stroke="#0f0" stroke-width="7.5" stroke-linecap="round"/>
<path d="M566.5 393.4C568.9 399.4 578.6 423.6 581.0 429.6" stroke="#0f0" stroke-width="7.5" stroke-linecap="round"/>
<path d="M607.3 399.6C609.7 393.6 619.2 369.4 621.6 363.4" stroke="#0f0" stroke-width="7.5" stroke-linecap="round"/>
<path d="M649.5 350.9C652.6 357.4 664.8 383.5 667.9 390.0" stroke="#0f0" stroke-width="7.5" stroke-linecap="round"/>
<path d="M681.8 433.3C684.9 439.7 697.1 465.0 700.2 471.4" stroke="#0f0" stroke-width="7.5" stroke-linecap="round"/>
<path d="M737.9 483.3C743.4 477.1 765.1 452.2 770.6 446.0" stroke="#0f0" stroke-width="7.5" stroke-linecap="round"/>
<path d="M797.7 403.7Q815.1 385.1 837.0 385.2" stroke="#0f0" stroke-width="7.5" stroke-linecap="round"/>
<path d="M877.5 416.0C883.8 421.7 908.7 444.3 915.0 450.0" stroke="#0f0" stroke-width="7.5" stroke-linecap="round"/>
<path d="M956.9 470.6Q975.4 475.4 996.3 470.6" stroke="#0f0" stroke-width="7.5" stroke-linecap="round"/>
<path d="M1036.2 459.9C1042.6 458.3 1068.0 451.7 1074.4 450.1" stroke="#0f0" stroke-width="7.5" stroke-linecap="round"/>
<path d="M1114.3 439.5C1120.9 438.8 1147.1 436.4 1153.7 435.7" stroke="#0f0" stroke-width="7.5" stroke-linecap="round"/>
<path d="M1193.6 433.9C1200.3 433.5 1226.9 431.9 1233.6 431.5" stroke="#0f0" stroke-width="7.5" stroke-linecap="round"/>
<path d="M1273.5 423.7C1280.1 421.8 1306.5 414.4 1313.1 412.5" stroke="#0f0" stroke-width="7.5" stroke-linecap="round"/>
<path d="M1352.8 398.3C1359.4 395.6 1386.0 384.9 1392.6 382.2" stroke="#0f0" stroke-width="7.5" stroke-linecap="round"/>
<path d="M1432.3 365.3C1438.9 363.6 1465.3 357.0 1471.9 355.3" stroke="#0f0" stroke-width="7.5" stroke-linecap="round"/>
<path d="M1513.0 346.6C1519.2 346.6 1544.2 346.6 1550.4 346.6" stroke="#0f0" stroke-width="7.5" stroke-linecap="round"/>
<path d="M1592.5 363.9Q1588.5 351.0 1630.4 382.2" stroke="#0f0" stroke-width="7.5" stroke-linecap="round"/>
<path d="M1670.4 416.7C1676.7 422.3 1701.8 444.6 1708.1 450.2" stroke="#0f0" stroke-width="7.5" stroke-linecap="round"/>
<path d="M550.0 311.9C552.4 317.9 562.1 341.6 564.5 347.6" stroke="#00f" stroke-width="7.5" stroke-linecap="round"/>
<path d="M569.3 393.4C571.7 399.4 581.2 423.3 583.6 429.3" stroke="#00f" stroke-width="7.5" stroke-linecap="round"/>
<path d="M607.4 429.3C610.2 423.3 621.4 399.4 624.2 393.4" stroke="#00f" stroke-width="7.5" stroke-linecap="round"/>
<path d="M638.5 349.1C640.2 347.2 645.0 338.2 648.4 338.1C651.8 338.0 655.7 344.4 658.7 348.5C661.7 352.6 665.2 360.5 666.6 362.9" stroke="#00f" stroke-width="7.5" stroke-linecap="round"/>
<path d="M680.3 405.1C682.6 411.2 691.7 435.5 694.0 441.6" stroke="#00f" stroke-width="7.5" stroke-linecap="round"/>
<path d="M707.9 484.9Q718.7 512.6 737.6 513.9" stroke="#00f" stroke-width="7.5" stroke-linecap="round"/>
<path d="M774.9 477.8C778.3 471.7 792.2 447.2 795.6 441.1" stroke="#00f" stroke-width="7.5" stroke-linecap="round"/>
<path d="M819.2 400.7Q837.4 370.4 853.6 376.1" stroke="#00f" stroke-width="7.5" stroke-linecap="round"/>
<path d="M895.4 406.0C900.7 412.2 922.2 437.1 927.5 443.3" stroke="#00f" stroke-width="7.5" stroke-linecap="round"/>
<path d="M965.0 482.8C971.6 486.5 998.3 501.5 1004.9 505.2" stroke="#00f" stroke-width="7.5" stroke-linecap="round"/>
<path d="M1044.6 511.7C1051.1 510.5 1077.5 505.9 1084.0 504.7" stroke="#00f" stroke-width="7.5" stroke-linecap="round"/>
<path d="M1123.8 490.2C1130.4 487.5 1157.0 476.8 1163.6 474.1" stroke="#00f" stroke-width="7.5" stroke-linecap="round"/>
<path d="M1203.1 456.7C1209.7 453.6 1235.7 441.1 1242.3 438.0" stroke="#00f" stroke-width="7.5" stroke-linecap="round"/>
<path d="M1283.1 414.9C1289.6 411.8 1315.2 399.3 1321.7 396.2" stroke="#00f" stroke-width="7.5" stroke-linecap="round"/>
<path d="M1362.6 374.7C1369.2 372.2 1395.7 362.3 1402.3 359.8" stroke="#00f" stroke-width="7.5" stroke-linecap="round"/>
<path d="M1442.2 348.3C1448.5 348.2 1473.8 347.9 1480.1 347.8" stroke="#00f" stroke-width="7.5" stroke-linecap="round"/>
<path d="M1522.7 355.7C1528.0 358.8 1548.9 371.3 1554.2 374.4" stroke="#00f" stroke-width="7.5" stroke-linecap="round"/>
<path d="M1598.7 399.7C1604.0 404.1 1625.3 421.3 1630.6 425.7" stroke="#00f" stroke-width="7.5" stroke-linecap="round"/>
<path d="M1670.4 469.3C1676.1 474.4 1699.0 494.5 1704.7 499.6" stroke="#00f" stroke-width="7.5" stroke-linecap="round"/>
<path d="M351.0 985.0C353.3 950.8 360.4 844.2 364.7 780.0C369.0 715.8 373.9 645.0 377.0 600.0C380.1 555.0 381.0 531.2 383.0 510.0C385.0 488.8 386.2 481.0 389.0 473.0C391.8 465.0 396.7 465.8 400.0 462.0C403.3 458.2 406.2 459.5 409.0 450.0C411.8 440.5 414.7 425.0 417.0 405.0C419.3 385.0 421.3 350.0 423.0 330.0C424.7 310.0 425.8 297.2 427.0 285.0C428.2 272.8 429.2 266.0 430.5 257.0C431.8 248.0 433.4 237.7 435.0 231.0C436.6 224.3 438.1 216.8 440.3 216.8C442.5 216.8 445.1 222.8 448.0 231.0C450.9 239.2 455.0 256.1 457.4 266.0C459.8 275.9 460.2 278.9 462.3 290.4C464.4 301.9 467.6 321.4 470.0 335.0C472.4 348.6 474.7 363.0 477.0 372.0C479.3 381.0 481.7 388.0 484.0 389.0C486.3 390.0 488.7 383.6 491.0 378.0C493.3 372.4 495.8 363.5 498.0 355.7C500.2 347.9 502.1 342.1 504.5 331.2C506.9 320.3 509.9 304.0 512.6 290.4C515.3 276.8 518.1 261.9 520.8 249.7C523.5 237.5 526.2 226.2 528.9 217.0C531.6 207.8 534.6 199.6 537.0 194.5C539.4 189.4 540.8 188.3 543.0 186.5C545.2 184.7 547.9 183.6 550.1 183.6C552.3 183.6 554.1 184.7 556.0 186.5C557.9 188.3 559.2 189.9 561.5 194.5C563.8 199.1 567.0 206.5 569.7 213.8C572.4 221.1 575.1 230.4 577.8 238.3C580.5 246.2 583.3 253.8 586.0 261.1C588.7 268.4 591.4 275.8 594.1 282.3C596.8 288.8 599.6 294.8 602.3 300.2C605.0 305.6 607.7 310.8 610.4 314.9C613.1 319.0 615.9 322.2 618.6 324.7C621.3 327.1 624.0 328.8 626.7 329.6C629.4 330.4 631.7 330.6 634.9 329.6C638.1 328.7 641.0 328.1 645.8 323.9C650.6 319.7 657.4 313.4 663.9 304.6C670.4 295.8 677.6 283.1 684.5 271.0C691.4 258.9 698.7 243.1 705.2 232.3C711.7 221.6 717.7 212.9 723.3 206.5C728.9 200.1 733.6 196.4 738.8 193.6C744.0 190.8 749.1 189.7 754.3 189.7C759.4 189.7 764.1 190.4 769.7 193.6C775.3 196.8 781.8 203.0 787.8 209.0C793.8 215.0 799.4 222.4 805.9 229.7C812.4 237.0 818.8 244.3 826.5 252.9C834.2 261.5 843.8 272.7 852.4 281.3C861.0 289.9 869.6 297.3 878.2 304.6C886.8 311.9 895.7 319.4 904.0 325.2C912.3 331.0 919.3 335.9 927.9 339.4C936.5 342.9 946.4 344.8 955.7 346.4C965.0 348.0 974.3 349.2 983.6 349.2C992.9 349.2 1002.1 347.6 1011.4 346.4C1020.7 345.2 1030.0 343.3 1039.3 342.2C1048.6 341.1 1057.8 340.8 1067.1 339.5C1076.4 338.2 1085.7 336.0 1095.0 334.5C1104.3 333.0 1113.5 331.5 1122.8 330.5C1132.1 329.5 1141.4 328.7 1150.7 328.5C1160.0 328.3 1169.5 329.0 1178.6 329.5C1187.6 330.0 1196.8 330.3 1205.0 331.5C1213.2 332.7 1219.5 334.1 1227.9 336.6C1236.4 339.1 1241.8 340.8 1255.7 346.4C1269.6 352.0 1292.8 361.9 1311.4 370.0C1330.0 378.1 1348.5 387.2 1367.1 395.1C1385.7 403.0 1407.3 411.3 1422.8 417.4C1438.3 423.5 1448.2 427.5 1460.0 431.8C1471.8 436.1 1482.4 438.9 1493.6 443.0C1504.8 447.1 1516.1 452.3 1527.3 456.4C1538.5 460.5 1552.1 464.7 1560.9 467.6C1569.7 470.5 1575.2 471.9 1580.0 474.0C1584.8 476.1 1587.2 478.3 1590.0 480.0C1592.8 481.7 1594.8 485.1 1597.0 484.0C1599.2 482.9 1600.2 473.3 1603.5 473.2C1606.8 473.1 1610.9 480.5 1616.9 483.3C1622.9 486.1 1631.8 488.1 1639.3 490.0C1646.8 491.9 1654.3 492.8 1661.8 494.5C1669.3 496.2 1676.2 498.4 1684.2 500.1C1692.2 501.8 1705.7 503.9 1710.0 504.6" stroke="#f0f" stroke-width="12.6" stroke-linecap="butt"/>
<path d="M350.3 1134.0C352.0 1109.0 357.1 1039.0 360.5 984.0C363.9 929.0 367.6 860.7 371.0 804.0C374.4 747.3 378.2 684.7 381.0 644.0C383.8 603.3 385.8 584.0 388.0 560.0C390.2 536.0 391.7 518.3 394.0 500.0C396.3 481.7 399.3 466.7 402.0 450.0C404.7 433.3 407.8 418.3 410.0 400.0C412.2 381.7 413.3 358.3 415.0 340.0C416.7 321.7 418.0 304.2 420.0 290.0C422.0 275.8 424.8 256.7 427.0 255.0C429.2 253.3 430.8 267.5 433.0 280.0C435.2 292.5 437.7 315.0 440.0 330.0C442.3 345.0 444.8 361.7 447.0 370.0C449.2 378.3 451.0 383.3 453.0 380.0C455.0 376.7 456.8 368.3 459.0 350.0C461.2 331.7 463.8 291.3 466.0 270.0C468.2 248.7 470.0 232.7 472.0 222.0C474.0 211.3 476.0 206.0 478.0 206.0C480.0 206.0 482.0 211.3 484.0 222.0C486.0 232.7 487.8 252.0 490.0 270.0C492.2 288.0 494.7 311.7 497.0 330.0C499.3 348.3 501.8 369.2 504.0 380.0C506.2 390.8 507.8 396.7 510.0 395.0C512.2 393.3 514.3 384.2 517.0 370.0C519.7 355.8 522.8 329.2 526.0 310.0C529.2 290.8 532.8 268.0 536.0 255.0C539.2 242.0 542.3 230.7 545.0 232.0C547.7 233.3 550.8 257.8 552.0 263.0" stroke="#0ff" stroke-width="7.5" stroke-dasharray="40 25" stroke-dashoffset="60" stroke-linecap="round"/>
<path d="M554.8 270.5C557.3 278.8 567.7 312.2 570.2 320.5" stroke="#0ff" stroke-width="7.5" stroke-linecap="round"/>
<path d="M574.7 341.7C577.5 348.6 588.9 376.2 591.7 383.1" stroke="#0ff" stroke-width="7.5" stroke-linecap="round"/>
<path d="M612.8 361.4C614.7 357.3 622.3 340.5 624.2 336.4" stroke="#0ff" stroke-width="7.5" stroke-linecap="round"/>
<path d="M642.4 279.3C644.2 277.1 650.2 267.1 653.6 265.9C657.0 264.7 659.8 268.1 663.0 272.0C666.2 275.9 671.3 286.5 672.9 289.4" stroke="#0ff" stroke-width="7.5" stroke-linecap="round"/>
<path d="M685.5 330.2C688.2 336.3 698.9 360.6 701.6 366.7" stroke="#0ff" stroke-width="7.5" stroke-linecap="round"/>
<path d="M729.6 407.0Q743.8 409.8 762.9 381.4" stroke="#0ff" stroke-width="7.5" stroke-linecap="round"/>
<path d="M782.8 335.9C786.6 329.7 802.0 305.2 805.8 299.0" stroke="#0ff" stroke-width="7.5" stroke-linecap="round"/>
<path d="M841.3 278.0C846.7 283.4 868.4 305.1 873.8 310.5" stroke="#0ff" stroke-width="7.5" stroke-linecap="round"/>
<path d="M904.5 352.6C910.0 358.9 931.8 384.0 937.3 390.3" stroke="#0ff" stroke-width="7.5" stroke-linecap="round"/>
<path d="M979.1 413.7Q996.8 421.7 1017.3 412.4" stroke="#0ff" stroke-width="7.5" stroke-linecap="round"/>
<path d="M1057.0 398.3C1063.6 395.6 1090.2 384.9 1096.8 382.2" stroke="#0ff" stroke-width="7.5" stroke-linecap="round"/>
<path d="M1136.5 369.2Q1163.8 358.0 1176.0 362.9" stroke="#0ff" stroke-width="7.5" stroke-linecap="round"/>
<path d="M1216.5 357.2C1223.1 356.5 1249.3 353.8 1255.9 353.1" stroke="#0ff" stroke-width="7.5" stroke-linecap="round"/>
<path d="M1297.3 347.4C1303.8 346.4 1330.2 342.2 1336.7 341.2" stroke="#0ff" stroke-width="7.5" stroke-linecap="round"/>
<path d="M1376.6 334.0C1383.2 333.1 1409.5 329.6 1416.1 328.7" stroke="#0ff" stroke-width="7.5" stroke-linecap="round"/>
<path d="M1454.5 328.9C1461.4 330.5 1488.6 336.7 1495.5 338.3" stroke="#0ff" stroke-width="7.5" stroke-linecap="round"/>
<path d="M1536.1 358.2C1542.1 362.4 1566.2 379.0 1572.2 383.2" stroke="#0ff" stroke-width="7.5" stroke-linecap="round"/>
<path d="M1607.4 415.7C1612.5 421.2 1632.5 443.4 1637.6 448.9" stroke="#0ff" stroke-width="7.5" stroke-linecap="round"/>
<path d="M1674.8 491.9C1680.3 498.0 1702.7 522.4 1708.2 528.5" stroke="#0ff" stroke-width="7.5" stroke-linecap="round"/>
<path d="M352.6 1135.0C354.3 1125.8 359.6 1098.3 362.7 1080.0C365.8 1061.7 369.0 1038.2 371.5 1025.0C374.0 1011.8 375.7 1007.1 377.8 1000.8C379.9 994.5 381.1 989.7 384.0 987.0C386.9 984.3 391.8 985.7 395.4 984.4C399.0 983.1 402.5 980.5 405.4 979.4C408.3 978.3 410.3 976.5 413.0 977.6C415.7 978.7 418.9 981.0 421.8 985.7C424.7 990.4 427.9 999.5 430.6 1005.8C433.3 1012.1 435.2 1018.3 438.1 1023.4C441.0 1028.5 444.4 1030.4 448.2 1036.5C452.0 1042.6 456.1 1051.4 460.7 1060.0C465.3 1068.6 470.8 1080.0 475.8 1088.0C480.8 1096.0 485.9 1102.0 490.9 1108.0C495.9 1114.0 501.0 1119.3 506.0 1124.3C511.0 1129.3 515.1 1133.3 521.0 1138.1C526.9 1142.9 534.5 1148.8 541.2 1153.2C547.9 1157.6 554.6 1161.4 561.3 1164.5C568.0 1167.6 573.9 1169.5 581.4 1172.0C588.9 1174.5 596.9 1177.3 606.5 1179.6C616.1 1181.9 627.0 1184.3 638.9 1186.0C650.8 1187.7 664.8 1188.8 677.7 1189.8C690.7 1190.8 703.6 1191.3 716.6 1191.8C729.6 1192.3 742.5 1192.5 755.5 1192.6C768.5 1192.7 781.3 1192.7 794.3 1192.6C807.2 1192.5 820.2 1192.3 833.2 1191.8C846.2 1191.3 859.0 1190.6 872.0 1189.8C885.0 1189.0 897.9 1188.1 910.9 1187.1C923.9 1186.1 936.8 1185.0 949.8 1184.0C962.8 1183.0 975.6 1182.1 988.6 1180.9C1001.6 1179.7 1014.5 1178.4 1027.5 1177.0C1040.5 1175.6 1053.5 1173.7 1066.4 1172.3C1079.4 1170.9 1092.2 1169.9 1105.2 1168.5C1118.2 1167.1 1135.0 1165.2 1144.1 1163.8C1153.2 1162.4 1154.7 1159.8 1159.6 1159.9C1164.5 1160.0 1169.4 1164.8 1173.3 1164.6C1177.2 1164.4 1174.9 1160.4 1183.0 1158.8C1191.1 1157.2 1208.8 1156.2 1221.8 1154.9C1234.8 1153.6 1247.7 1152.3 1260.7 1151.0C1273.7 1149.7 1284.2 1149.7 1300.0 1147.1C1315.8 1144.5 1333.2 1139.0 1355.4 1135.4C1377.6 1131.8 1407.3 1128.8 1433.2 1125.7C1459.1 1122.7 1488.9 1119.4 1510.9 1117.1C1532.9 1114.8 1553.5 1113.7 1565.3 1112.1C1577.1 1110.5 1576.8 1106.9 1582.0 1107.3C1587.2 1107.7 1592.7 1115.8 1596.4 1114.3C1600.1 1112.8 1600.1 1099.5 1604.0 1098.5C1607.9 1097.5 1609.3 1107.9 1619.7 1108.2C1630.1 1108.5 1651.4 1102.7 1666.3 1100.4C1681.2 1098.1 1701.9 1095.6 1709.0 1094.6" stroke="#000" stroke-width="12.6" stroke-linecap="round"/>
<path d="M352.6 1153.0C354.3 1144.2 359.6 1117.5 362.7 1100.4C365.8 1083.2 369.0 1061.5 371.5 1050.3C374.0 1039.0 374.2 1037.8 377.8 1032.8C381.4 1027.8 388.2 1024.3 392.8 1020.4C397.4 1016.5 401.6 1009.2 405.4 1009.3C409.2 1009.3 412.1 1015.9 415.5 1020.7C418.9 1025.6 422.1 1033.7 425.5 1038.3C428.9 1042.9 431.8 1044.9 435.6 1048.2C439.4 1051.5 444.0 1052.6 448.2 1057.9C452.4 1063.3 456.1 1072.4 460.7 1080.3C465.3 1088.2 470.8 1098.2 475.8 1105.2C480.8 1112.2 485.9 1117.1 490.9 1122.5C495.9 1127.8 501.0 1132.6 506.0 1137.3C511.0 1142.0 515.1 1146.1 521.0 1150.8C526.9 1155.4 534.5 1160.9 541.2 1165.0C547.9 1169.1 554.6 1172.6 561.3 1175.5C568.0 1178.3 573.9 1179.9 581.4 1182.1C588.9 1184.3 596.9 1186.8 606.5 1188.7C616.1 1190.6 627.0 1192.5 638.9 1193.7C650.8 1195.0 664.8 1195.4 677.7 1195.9C690.7 1196.5 703.6 1196.7 716.6 1197.0C729.6 1197.3 742.5 1197.7 755.5 1197.8C768.5 1197.9 781.3 1197.9 794.3 1197.8C807.2 1197.7 820.2 1197.5 833.2 1197.0C846.2 1196.5 859.0 1195.7 872.0 1195.0C885.0 1194.3 897.9 1193.3 910.9 1192.6C923.9 1191.8 936.8 1191.2 949.8 1190.5C962.8 1189.8 975.6 1189.3 988.6 1188.5C1001.6 1187.6 1014.5 1186.7 1027.5 1185.6C1040.5 1184.5 1053.5 1183.0 1066.4 1181.9C1079.4 1180.9 1092.2 1180.2 1105.2 1179.2C1118.2 1178.1 1135.0 1176.7 1144.1 1175.5C1153.2 1174.3 1154.7 1171.8 1159.6 1172.0C1164.5 1172.3 1169.4 1177.2 1173.3 1177.1C1177.2 1177.0 1174.9 1172.9 1183.0 1171.5C1191.1 1170.2 1208.8 1169.7 1221.8 1168.8C1234.8 1168.0 1247.7 1167.1 1260.7 1166.3C1273.7 1165.4 1284.2 1165.8 1300.0 1163.7C1315.8 1161.7 1333.2 1156.7 1355.4 1153.9C1377.6 1151.1 1407.3 1149.1 1433.2 1146.9C1459.1 1144.8 1488.9 1142.5 1510.9 1141.0C1532.9 1139.5 1553.5 1139.1 1565.3 1137.9C1577.1 1136.6 1576.8 1133.1 1582.0 1133.6C1587.2 1134.2 1592.7 1142.5 1596.4 1141.1C1600.1 1139.8 1600.1 1126.5 1604.0 1125.6C1607.9 1124.7 1609.3 1135.2 1619.7 1135.8C1630.1 1136.5 1651.4 1131.4 1666.3 1129.6C1681.2 1127.9 1701.9 1126.0 1709.0 1125.3" stroke="#f00" stroke-width="12.6" stroke-linecap="round"/>
<path d="M352.6 1147.0C354.3 1138.1 359.6 1111.1 362.7 1093.9C365.8 1076.6 369.0 1054.8 371.5 1043.4C374.0 1032.1 374.2 1030.8 377.8 1025.6C381.4 1020.5 388.2 1016.7 392.8 1012.6C397.4 1008.5 401.6 1001.0 405.4 1000.9C409.2 1000.8 412.1 1007.2 415.5 1011.9C418.9 1016.7 422.1 1024.8 425.5 1029.4C428.9 1034.0 431.8 1036.1 435.6 1039.4C439.4 1042.8 444.0 1044.0 448.2 1049.4C452.4 1054.8 456.1 1064.0 460.7 1071.9C465.3 1079.9 470.8 1090.0 475.8 1097.1C480.8 1104.2 485.9 1109.2 490.9 1114.6C495.9 1120.1 501.0 1124.9 506.0 1129.7C511.0 1134.5 515.1 1138.6 521.0 1143.4C526.9 1148.2 534.5 1154.0 541.2 1158.4C547.9 1162.8 554.6 1166.5 561.3 1169.6C568.0 1172.7 573.9 1174.6 581.4 1177.1C588.9 1179.5 596.9 1182.3 606.5 1184.6C616.1 1186.9 627.0 1189.2 638.9 1190.8C650.8 1192.5 664.8 1193.6 677.7 1194.5C690.7 1195.4 703.6 1195.9 716.6 1196.3C729.6 1196.7 742.5 1196.9 755.5 1197.0C768.5 1197.1 781.3 1196.9 794.3 1196.8C807.2 1196.7 820.2 1196.7 833.2 1196.4C846.2 1196.1 859.0 1195.5 872.0 1194.9C885.0 1194.3 897.9 1193.5 910.9 1192.7C923.9 1191.9 936.8 1190.9 949.8 1190.1C962.8 1189.2 975.6 1188.5 988.6 1187.5C1001.6 1186.5 1014.5 1185.3 1027.5 1184.0C1040.5 1182.8 1053.5 1181.1 1066.4 1179.8C1079.4 1178.6 1092.2 1177.8 1105.2 1176.5C1118.2 1175.3 1135.0 1173.6 1144.1 1172.3C1153.2 1171.0 1154.7 1168.4 1159.6 1168.6C1164.5 1168.8 1169.4 1173.6 1173.3 1173.5C1177.2 1173.3 1174.9 1169.3 1183.0 1167.8C1191.1 1166.3 1208.8 1165.6 1221.8 1164.5C1234.8 1163.4 1247.7 1162.3 1260.7 1161.2C1273.7 1160.2 1284.2 1160.4 1300.0 1158.0C1315.8 1155.7 1333.2 1150.5 1355.4 1147.3C1377.6 1144.1 1407.3 1141.5 1433.2 1138.9C1459.1 1136.3 1488.9 1133.6 1510.9 1131.7C1532.9 1129.8 1553.5 1129.0 1565.3 1127.6C1577.1 1126.2 1576.8 1122.6 1582.0 1123.1C1587.2 1123.6 1592.7 1131.8 1596.4 1130.4C1600.1 1129.0 1600.1 1115.6 1604.0 1114.7C1607.9 1113.7 1609.3 1124.2 1619.7 1124.7C1630.1 1125.2 1651.4 1119.7 1666.3 1117.7C1681.2 1115.7 1701.9 1113.4 1709.0 1112.6" stroke="#0f0" stroke-width="12.6" stroke-linecap="round"/>
<path d="M352.6 1139.0C354.3 1130.2 359.6 1103.4 362.7 1086.2C365.8 1069.0 369.0 1047.3 371.5 1036.0C374.0 1024.7 374.2 1023.4 377.8 1018.4C381.4 1013.4 388.2 1009.8 392.8 1005.8C397.4 1001.8 401.6 994.5 405.4 994.5C409.2 994.5 412.1 1001.0 415.5 1005.8C418.9 1010.6 422.1 1018.8 425.5 1023.4C428.9 1028.0 431.8 1030.2 435.6 1033.5C439.4 1036.8 444.0 1038.1 448.2 1043.5C452.4 1048.9 456.1 1058.1 460.7 1066.1C465.3 1074.1 470.8 1084.2 475.8 1091.3C480.8 1098.4 485.9 1103.5 490.9 1108.9C495.9 1114.4 501.0 1119.2 506.0 1124.0C511.0 1128.8 515.1 1133.0 521.0 1137.8C526.9 1142.6 534.5 1148.5 541.2 1152.9C547.9 1157.3 554.6 1161.1 561.3 1164.2C568.0 1167.3 573.9 1169.2 581.4 1171.7C588.9 1174.2 596.9 1177.0 606.5 1179.3C616.1 1181.6 627.0 1184.0 638.9 1185.7C650.8 1187.4 664.8 1188.5 677.7 1189.5C690.7 1190.5 703.6 1191.0 716.6 1191.5C729.6 1192.0 742.5 1192.2 755.5 1192.3C768.5 1192.4 781.3 1192.4 794.3 1192.3C807.2 1192.2 820.2 1192.0 833.2 1191.5C846.2 1191.0 859.0 1190.3 872.0 1189.5C885.0 1188.7 897.9 1187.8 910.9 1186.8C923.9 1185.8 936.8 1184.7 949.8 1183.7C962.8 1182.7 975.6 1181.8 988.6 1180.6C1001.6 1179.4 1014.5 1178.1 1027.5 1176.7C1040.5 1175.3 1053.5 1173.4 1066.4 1172.0C1079.4 1170.6 1092.2 1169.6 1105.2 1168.2C1118.2 1166.8 1135.0 1164.9 1144.1 1163.5C1153.2 1162.1 1154.7 1159.5 1159.6 1159.6C1164.5 1159.7 1169.4 1164.5 1173.3 1164.3C1177.2 1164.1 1174.9 1160.1 1183.0 1158.5C1191.1 1156.9 1208.8 1155.9 1221.8 1154.6C1234.8 1153.3 1247.7 1152.0 1260.7 1150.7C1273.7 1149.4 1284.2 1149.4 1300.0 1146.8C1315.8 1144.2 1333.2 1138.7 1355.4 1135.1C1377.6 1131.5 1407.3 1128.5 1433.2 1125.4C1459.1 1122.4 1488.9 1119.1 1510.9 1116.8C1532.9 1114.5 1553.5 1113.4 1565.3 1111.8C1577.1 1110.2 1576.8 1106.6 1582.0 1107.0C1587.2 1107.4 1592.7 1115.5 1596.4 1114.0C1600.1 1112.5 1600.1 1099.2 1604.0 1098.2C1607.9 1097.2 1609.3 1107.6 1619.7 1107.9C1630.1 1108.2 1651.4 1102.4 1666.3 1100.1C1681.2 1097.8 1701.9 1095.3 1709.0 1094.3" stroke="#00f" stroke-width="12.6" stroke-linecap="round"/>
<path d="M352.1 1122.7C353.5 1112.4 357.4 1081.5 360.2 1061.1C363.0 1040.6 365.9 1019.7 369.0 1000.0C372.1 980.3 376.5 956.3 379.0 943.0C381.5 929.7 381.3 925.8 384.0 920.3C386.7 914.8 391.8 914.5 395.4 910.3C399.0 906.1 402.7 898.8 405.4 895.2C408.1 891.6 409.4 888.5 411.7 888.9C414.0 889.3 416.9 892.9 419.2 897.7C421.5 902.5 423.2 911.7 425.5 917.8C427.8 923.9 429.2 929.6 433.0 934.2C436.8 938.8 443.6 941.1 448.2 945.5C452.8 949.9 456.5 953.5 460.7 960.6C464.9 967.7 469.1 979.4 473.3 988.2C477.5 997.0 481.3 1005.3 485.9 1013.3C490.5 1021.3 495.0 1028.0 500.9 1036.0C506.8 1044.0 514.3 1052.7 521.0 1061.1C527.7 1069.5 534.5 1078.5 541.2 1086.2C547.9 1094.0 554.6 1101.3 561.3 1107.6C568.0 1113.9 573.9 1118.8 581.4 1124.0C588.9 1129.2 596.9 1134.9 606.5 1139.0C616.1 1143.1 627.0 1145.5 638.9 1148.7C650.8 1152.0 664.8 1156.0 677.7 1158.5C690.7 1161.0 703.6 1162.5 716.6 1163.5C729.6 1164.5 742.5 1164.5 755.5 1164.3C768.5 1164.1 781.3 1163.1 794.3 1162.3C807.2 1161.5 820.2 1160.7 833.2 1159.6C846.2 1158.5 859.0 1157.2 872.0 1155.7C885.0 1154.2 897.9 1152.4 910.9 1150.7C923.9 1149.0 936.8 1147.2 949.8 1145.6C962.8 1144.0 975.6 1142.8 988.6 1141.0C1001.6 1139.2 1014.5 1137.0 1027.5 1135.1C1040.5 1133.1 1053.5 1131.2 1066.4 1129.3C1079.4 1127.4 1092.2 1125.8 1105.2 1123.5C1118.2 1121.2 1135.0 1118.0 1144.1 1115.7C1153.2 1113.4 1154.7 1110.1 1159.6 1109.9C1164.5 1109.7 1169.4 1115.2 1173.3 1114.5C1177.2 1113.8 1174.9 1109.0 1183.0 1106.0C1191.1 1103.0 1208.8 1098.9 1221.8 1096.3C1234.8 1093.7 1247.7 1092.7 1260.7 1090.4C1273.7 1088.1 1284.2 1086.6 1300.0 1082.7C1315.8 1078.8 1333.2 1072.6 1355.4 1067.1C1377.6 1061.6 1407.3 1054.8 1433.2 1049.6C1459.1 1044.4 1488.9 1039.2 1510.9 1036.0C1532.9 1032.8 1553.5 1031.9 1565.3 1030.2C1577.1 1028.5 1576.8 1025.0 1582.0 1026.0C1587.2 1027.0 1592.7 1038.2 1596.4 1036.0C1600.1 1033.8 1600.1 1014.6 1604.0 1012.7C1607.9 1010.8 1609.3 1024.4 1619.7 1024.4C1630.1 1024.4 1651.4 1015.4 1666.3 1012.7C1681.2 1010.0 1701.9 1008.8 1709.0 1008.0" stroke="#0ff" stroke-width="12.6" stroke-linecap="round"/>
</g>
<g fill="none" stroke-linecap="butt" stroke-width="5.4">
<path d="M458.3 580H643" stroke="#c0c0c0" stroke-width="9"/>
<path d="M458.3 680.1H643" stroke="#000"/>
<path d="M458.3 805.6H643" stroke="#f00"/>
<path d="M458.3 905.8H643" stroke="#0f0"/>
<path d="M1156.8 680.1H1339" stroke="#00f"/>
<path d="M1143.9 805.6H1326" stroke="#0ff"/>
<path d="M1143.9 905.8H1326" stroke="#f0f"/>
</g>
<g id="labels">
<text class="tk" x="267" y="98.5" text-anchor="end">100</text>
<text class="tk" x="267" y="326.5" text-anchor="end">80</text>
<text class="tk" x="267" y="554" text-anchor="end">60</text>
<text class="tk" x="267" y="781.8" text-anchor="end">40</text>
<text class="tk" x="267" y="1009.6" text-anchor="end">20</text>
<text class="tk" x="267" y="1237" text-anchor="end">0</text>
<text class="tk" x="310.5" y="1327" text-anchor="middle">300</text>
<text class="tk" x="557.3" y="1327" text-anchor="middle">600</text>
<text class="tk" x="803" y="1327" text-anchor="middle">900</text>
<text class="tk" x="1050.3" y="1327" text-anchor="middle">1200</text>
<text class="tk" x="1296.8" y="1327" text-anchor="middle">1500</text>
<text class="tk" x="1543.7" y="1327" text-anchor="middle">1800</text>
<text class="tk" x="1788.3" y="1327" text-anchor="middle">2100</text>
<text class="ax" x="653" y="1434.3" textLength="797" lengthAdjust="spacing">Wavelength (nm)</text>
<text class="ax" transform="translate(112.9,1074.5) rotate(-90)" textLength="894.5" lengthAdjust="spacing">Transmittance (%)</text>
<text class="lg" x="660" y="605.4">ITO substrate</text>
<text class="lg" x="660" y="705">WO<tspan class="sb" dy="31">3</tspan></text>
<text class="lg" x="660" y="831.4">W-Nb-150w</text>
<text class="lg" x="660" y="930.5">W-Nb-250w</text>
<text class="lg" x="1357.5" y="706">W-Nb-350w</text>
<text class="lg" x="1344" y="831.4">W-Nb-450w</text>
<text class="lg" x="1344" y="929.5">Nb<tspan class="sb" dy="31">2</tspan><tspan dy="-31">O</tspan><tspan class="sb" dy="31">5</tspan></text>
</g>
</svg>
</body></html>
